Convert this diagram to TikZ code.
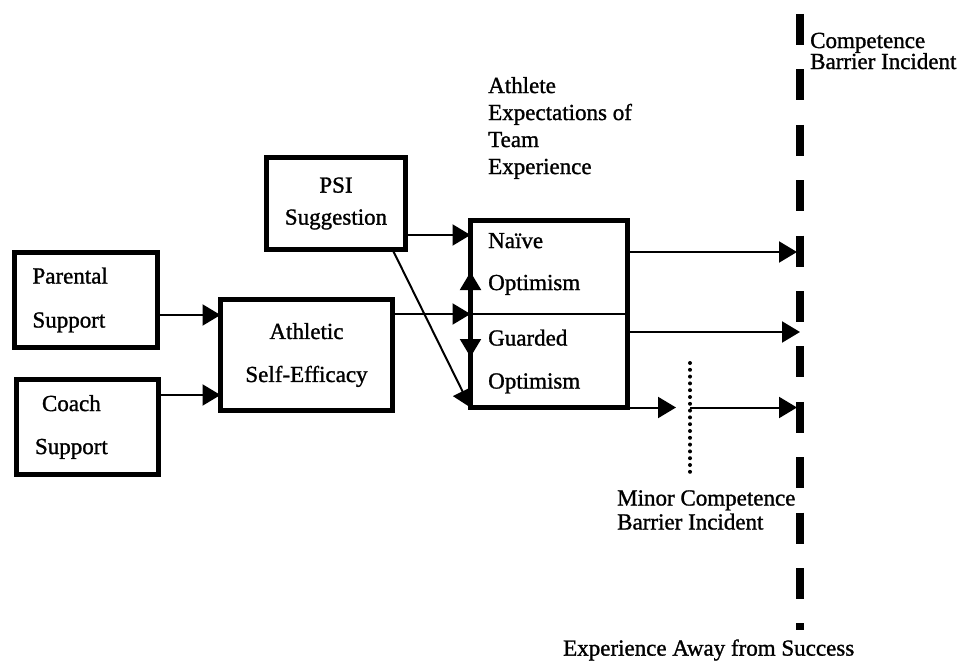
\documentclass[tikz,border=0pt]{standalone}
\usepackage{fontspec}
\setmainfont{Liberation Serif}[FakeBold=1.2]
\usetikzlibrary{arrows.meta,calc}
% text size with a chosen line spacing (in bp)
\newcommand\txtsize[1]{\fontsize{23bp}{#1bp}\selectfont}
\begin{document}
\begin{tikzpicture}[x=1bp,y=-1bp,
  box/.style={draw, line width=5bp, outer sep=0pt, inner sep=0pt},
  lbl/.style={inner sep=0pt, align=left, anchor=west},
  arr/.style={line width=2bp, -{Triangle[length=18bp,width=21bp]}},
]
\useasboundingbox (0,0) rectangle (969,666);

% source boxes
\node[box, minimum width=142bp, minimum height=95bp, text width=107bp, align=left,
  font=\txtsize{44}] (ps) at (86,300) {Parental\\Support};
\node[box, minimum width=142bp, minimum height=95bp, text width=105bp, align=left,
  font=\txtsize{43}] (cs) at (87.5,427) {\hspace*{7bp}Coach\\Support};
\node[box, minimum width=172bp, minimum height=111bp, align=center,
  font=\txtsize{43}] (ath) at (306.5,355) {Athletic\\Self-Efficacy};
\node[box, minimum width=139bp, minimum height=92bp, align=center,
  font=\txtsize{32}] (psi) at (336,203.5) {PSI\\Suggestion};

% expectations box (two halves)
\node[box, minimum width=157bp, minimum height=187bp] (ex) at (549,314) {};
\node[lbl, font=\txtsize{42}] (naive) at (488,264) {Naïve\\Optimism};
\node[lbl, font=\txtsize{43}] (guard) at (488,361.5) {Guarded\\Optimism};
\draw[line width=2bp] (ex.west) -- (ex.east);

% free labels
\node[lbl, font=\txtsize{27}] (title) at (488,128) {Athlete\\Expectations of\\Team\\Experience};
\node[lbl, font=\txtsize{21}] (comp) at (810,51) {Competence\\Barrier Incident};
\node[lbl, font=\txtsize{24}] (minor) at (617,510) {Minor Competence\\Barrier Incident};
\node[lbl, font=\txtsize{23}] (away) at (563,650) {Experience Away from Success};

% support -> self-efficacy
\coordinate (r1) at ($(ps.east)+(0,15)$);
\draw[arr] (r1) -- (r1 -| ath.west);
\coordinate (r2) at ($(cs.east)+(0,-32)$);
\draw[arr] (r2) -- (r2 -| ath.west);

% into the expectations box
\draw[arr] (ex.west -| ath.east) -- (ex.west);
\coordinate (r3) at ($(psi.east)+(0,31.5)$);
\draw[arr] (r3) -- (r3 -| ex.west);
\draw[arr] ($(psi.south east)+(-13,0)$) -- (ex.south west);
\draw[arr] (ex.west) -- ($(ex.west)+(0,-42)$);
\draw[arr] (ex.west) -- ($(ex.west)+(0,43)$);

% competence barrier
\coordinate (bt) at (800,14);
\coordinate (bb) at (800,630);
\draw[line width=8bp, dash pattern=on 31bp off 24.4bp] (bt) -- (bb);
\coordinate (t1) at (797,252);
\coordinate (t2) at (800,332);
\coordinate (t3) at (797,410);
\draw[arr] (t1 -| ex.east) -- (t1);
\draw[arr] (t2 -| ex.east) -- (t2);

% minor barrier
\coordinate (dt) at (690,363);
\coordinate (db) at (690,473);
\draw[line width=4bp, line cap=round, dash pattern=on 0bp off 6.8bp] (dt) -- (db);
\coordinate (j) at (ex.south east -| dt);
\draw[arr] (ex.south east) -- ($(j)+(-14,0)$);
\draw[arr] (j) -- (j -| t3);
\end{tikzpicture}
\end{document}
